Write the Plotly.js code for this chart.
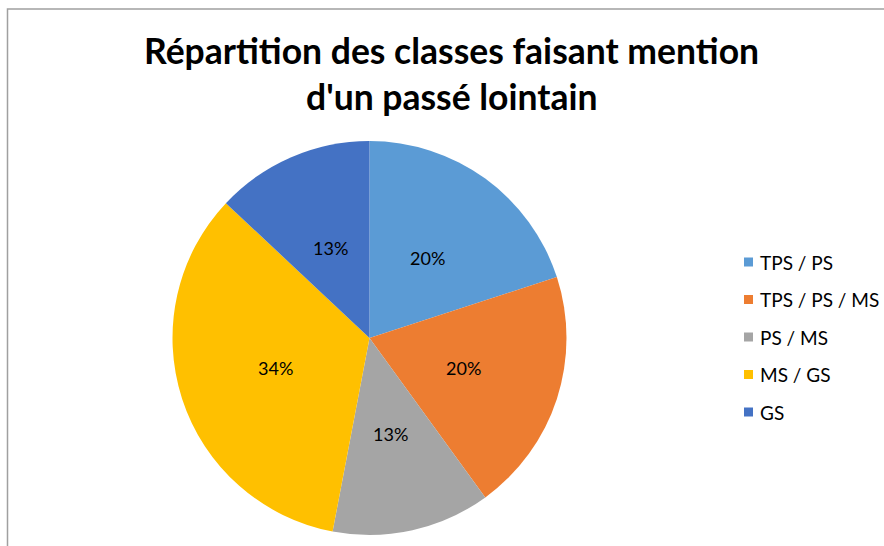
<!DOCTYPE html>
<html>
<head>
<meta charset="utf-8">
<script src="https://cdn.plot.ly/plotly-3.0.1.min.js"></script>
<style>html,body{margin:0;padding:0;background:#fff;}#chart{width:884px;height:546px;}</style>
</head>
<body>
<div id="chart"></div>
<script>
const categories = ["TPS / PS", "TPS / PS / MS", "PS / MS", "MS / GS", "GS"];
const values = [20, 20, 13, 34, 13];
const colors = ["#5B9BD5", "#ED7D31", "#A5A5A5", "#FFC000", "#4472C4"];
const titleLines = ["Répartition des classes faisant mention", "d'un passé lointain"];

const W = 884, H = 546;
const cx = 369.5, cy = 338, r = 197;
const FONT = "Lato, 'Open Sans', sans-serif";

const trace = {
  type: "pie",
  labels: categories,
  values: values,
  sort: false,
  direction: "clockwise",
  rotation: 0,
  marker: {colors: colors, line: {color: "#ffffff", width: 0}},
  textinfo: "none",
  hoverinfo: "label+percent",
  showlegend: false,
  domain: {x: [(cx - r) / W, (cx + r) / W], y: [(H - cy - r) / H, (H - cy + r) / H]}
};

const annotations = [];
const shapes = [];

// title lines
const titleY = [50, 96];
titleLines.forEach((t, i) => {
  annotations.push({
    xref: "paper", yref: "paper", x: 452 / W, y: 1 - titleY[i] / H,
    xanchor: "center", yanchor: "middle", showarrow: false, text: "<b>" + t + "</b>",
    font: {family: FONT, size: 35.5, color: "#000000"}
  });
});

// slice labels at half radius on each slice bisector
const total = values.reduce((a, b) => a + b, 0);
let cum = 0;
values.forEach((v, i) => {
  const mid = (cum + v / 2) / total * 2 * Math.PI;
  cum += v;
  const px = cx + 0.5 * r * Math.sin(mid);
  const py = cy - 0.5 * r * Math.cos(mid);
  annotations.push({
    xref: "paper", yref: "paper", x: px / W, y: 1 - py / H,
    xanchor: "center", yanchor: "middle", showarrow: false,
    text: Math.round(v / total * 100) + "%",
    font: {family: FONT, size: 18, color: "#000000"}
  });
});

// legend
const legX = 744, legY0 = 262, legStep = 37.5, sq = 9;
categories.forEach((c, i) => {
  const y = legY0 + i * legStep;
  shapes.push({
    type: "rect", xref: "paper", yref: "paper",
    x0: legX / W, x1: (legX + sq) / W, y0: 1 - (y + sq / 2) / H, y1: 1 - (y - sq / 2) / H,
    fillcolor: colors[i], line: {width: 0}
  });
  annotations.push({
    xref: "paper", yref: "paper", x: (legX + sq + 5) / W, y: 1 - y / H,
    xanchor: "left", yanchor: "middle", showarrow: false, text: c,
    font: {family: FONT, size: 19, color: "#000000"}
  });
});

// chart area border
shapes.push({
  type: "rect", xref: "paper", yref: "paper",
  x0: 7.5 / W, x1: 1.05, y0: -0.05, y1: 1 - 9 / H,
  line: {color: "#a0a0a0", width: 1.5}, fillcolor: "rgba(0,0,0,0)", layer: "above"
});

const layout = {
  width: W, height: H,
  margin: {l: 0, r: 0, t: 0, b: 0},
  paper_bgcolor: "#ffffff",
  showlegend: false,
  annotations: annotations,
  shapes: shapes
};

Plotly.newPlot("chart", [trace], layout, {staticPlot: true, displayModeBar: false});
</script>
</body>
</html>
